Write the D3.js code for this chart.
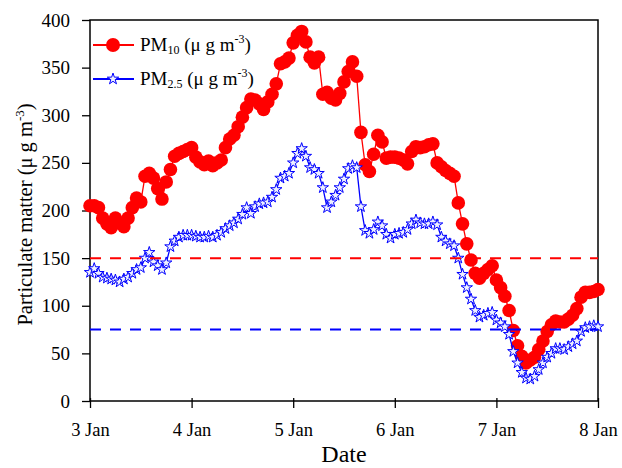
<!DOCTYPE html>
<html>
<head>
<meta charset="utf-8">
<script src="https://cdn.jsdelivr.net/npm/d3@7"></script>
<style>
body { margin: 0; background: #fff; }
svg text { font-family: "Liberation Serif", "Times New Roman", serif; fill: #000; }
</style>
</head>
<body>
<svg id="chart" width="622" height="468"></svg>
<script>
// hourly values, 3 Jan 00:00 -> 8 Jan 00:00
const pm10 = [205,205,203,192,186,182,192,187,183,192,203,213,209,236,239,234,223,212,230,243,
  257,260,262,264,266,256,251,248,252,247,250,253,266,275,279,288,298,308,317,316,
  312,306,314,322,333,354,356,360,376,384,388,377,361,355,361,322,324,318,316,323,
  335,346,356,341,282,248,241,259,279,272,255,256,256,255,253,249,262,267,266,267,
  269,270,250,246,242,239,236,208,186,165,148,134,129,134,138,142,127,119,110,95,
  74,58,47,40,43,46,54,63,73,80,84,83,83,86,90,97,109,114,114,115,117]
const pm25 = [135,139,134,130,129,128,127,125,128,130,134,138,140,150,156,146,142,138,145,162,
  168,172,174,174,174,173,172,172,173,172,174,177,181,184,187,191,196,203,197,204,
  207,208,209,214,222,234,236,239,250,260,265,257,245,243,239,224,203,209,216,224,
  233,244,247,245,204,179,176,180,188,184,175,171,175,176,177,180,186,190,187,186,
  186,188,185,172,168,165,163,150,133,119,107,95,88,90,92,93,85,82,78,70,
  52,40,30,24,23,26,33,40,46,50,55,55,54,57,60,63,73,77,78,79,78]
const limits = [{name:"PM10", value:150, color:"#ff0000"}, {name:"PM2.5", value:75, color:"#0000ff"}]
const yTicks = [0,50,100,150,200,250,300,350,400]

const start = new Date(2000, 0, 3)
const end = new Date(2000, 0, 8)
const hours = pm10.map((d, i) => d3.timeHour.offset(start, i))

const svg = d3.select("#chart")
const x0 = 90, x1 = 598, y0 = 401, y1 = 20

const x = d3.scaleTime().domain([start, end]).range([x0, x1])
const y = d3.scaleLinear().domain([0, 400]).range([y0, y1])

// frame
svg.append("rect")
  .attr("x", x0).attr("y", y1)
  .attr("width", x1 - x0).attr("height", y0 - y1)
  .attr("fill", "none").attr("stroke", "#000").attr("stroke-width", 1.5)

const xAxis = svg.append("g")
  .attr("transform", `translate(0,${y0})`)
  .call(d3.axisBottom(x).ticks(d3.timeDay.every(1)).tickFormat(d3.timeFormat("%-d Jan")).tickSize(7).tickSizeOuter(0).tickPadding(15))
xAxis.select(".domain").remove()
xAxis.selectAll(".tick line").attr("y1", -3).attr("stroke-width", 1.3)
xAxis.selectAll("text").style("font-size", "18.5px")

const yAxis = svg.append("g")
  .attr("transform", `translate(${x0},0)`)
  .call(d3.axisLeft(y).tickValues(yTicks).tickSize(8).tickSizeOuter(0).tickPadding(12))
yAxis.select(".domain").remove()
yAxis.selectAll(".tick line").attr("stroke-width", 1.3)
yAxis.selectAll("text").style("font-size", "19px")

svg.append("text")
  .attr("x", (x0 + x1) / 2).attr("y", 462)
  .attr("text-anchor", "middle")
  .style("font-size", "24px")
  .text("Date")

const ylab = svg.append("text")
  .attr("transform", `translate(32,${(y0 + y1) / 2 + 4}) rotate(-90)`)
  .attr("text-anchor", "middle")
  .style("font-size", "20.5px")
ylab.append("tspan").text("Particulate matter (μ g m")
ylab.append("tspan").attr("dy", -8).style("font-size", "13px").text("-3")
ylab.append("tspan").attr("dy", 8).text(")")

// PM10
const line = d3.line().x((d, i) => x(hours[i])).y(d => y(d))
svg.append("path").datum(pm10)
  .attr("d", line).attr("fill", "none").attr("stroke", "#ff0000").attr("stroke-width", 1.3)
svg.append("g").selectAll("circle")
  .data(pm10)
  .enter()
  .append("circle")
  .attr("cx", (d, i) => x(hours[i]))
  .attr("cy", d => y(d))
  .attr("r", 6.8)
  .attr("fill", "#ff0000")

// PM2.5
const star = d3.symbol().type(d3.symbolStar).size(40)
svg.append("path").datum(pm25)
  .attr("d", line).attr("fill", "none").attr("stroke", "#0000ff").attr("stroke-width", 1.3)
svg.append("g").selectAll("path")
  .data(pm25)
  .enter()
  .append("path")
  .attr("d", star)
  .attr("transform", (d, i) => `translate(${x(hours[i])},${y(d)})`)
  .attr("fill", "#eef0ff")
  .attr("stroke", "#0000ff")
  .attr("stroke-width", 1)

// limit lines
svg.append("g").selectAll("line")
  .data(limits)
  .enter()
  .append("line")
  .attr("x1", x0).attr("x2", x1)
  .attr("y1", d => y(d.value)).attr("y2", d => y(d.value))
  .attr("stroke", d => d.color)
  .attr("stroke-width", 2)
  .attr("stroke-dasharray", "11,9")

// legend
const legend = svg.append("g")
const rows = [{sub:"10", color:"#ff0000", ly:45, mark:"circle"}, {sub:"2.5", color:"#0000ff", ly:79, mark:"star"}]
rows.forEach(r => {
  legend.append("line").attr("x1", 93).attr("x2", 134).attr("y1", r.ly).attr("y2", r.ly)
    .attr("stroke", r.color).attr("stroke-width", 2)
  if (r.mark === "circle") {
    legend.append("circle").attr("cx", 113).attr("cy", r.ly).attr("r", 7).attr("fill", r.color)
  } else {
    legend.append("path").attr("d", star).attr("transform", `translate(113,${r.ly})`)
      .attr("fill", "#eef0ff").attr("stroke", r.color).attr("stroke-width", 1)
  }
  const t = legend.append("text").attr("x", 140).attr("y", r.ly + 6).style("font-size", "19px")
  t.append("tspan").text("PM")
  t.append("tspan").attr("dy", 3).style("font-size", "12px").text(r.sub)
  t.append("tspan").attr("dy", -3).text(" (μ g m")
  t.append("tspan").attr("dy", -8).style("font-size", "12px").text("-3")
  t.append("tspan").attr("dy", 8).text(")")
})
</script>
</body>
</html>
